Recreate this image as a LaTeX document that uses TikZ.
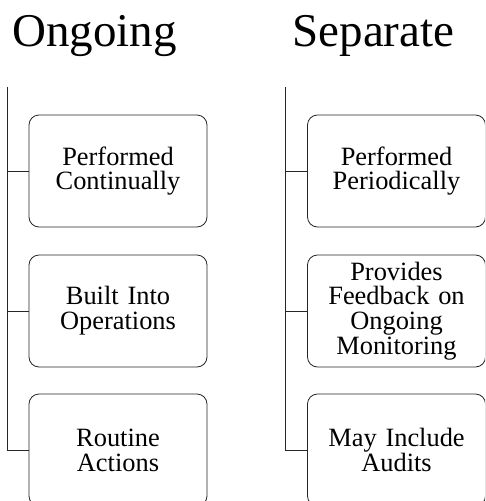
\documentclass[tikz,border=0pt]{standalone}
\usepackage{fontspec}
\setmainfont{Liberation Serif}
\begin{document}
\begin{tikzpicture}[x=1pt,y=-1pt,
  itembox/.style={draw=black!85, line width=0.8pt, rounded corners=10pt,
    minimum width=178pt, minimum height=112pt, inner sep=0pt,
    text width=172pt, align=center, font=\fontsize{26.4}{24.8}\selectfont},
  heading/.style={font=\fontsize{47}{50}\selectfont, anchor=base},
  link/.style={draw=black!85, line width=0.8pt}]
\useasboundingbox (0,0) rectangle (485,501);
\clip (0,0) rectangle (485,501);

% headings
\node[heading] (hOn) at (94.5,46.5) {Ongoing};
\node[heading] (hSep) at (373.5,46.5) {Separate};

% Ongoing column
\coordinate (topL) at (7.5,87);
\node[itembox] (l1) at (118,171) {Performed\\Continually};
\node[itembox] (l2) at (118,311) {Built Into\\Operations};
\node[itembox] (l3) at (118,450) {Routine\\Actions};
\draw[link] (topL) |- (l3.west);
\draw[link] (topL |- l1.west) -- (l1.west);
\draw[link] (topL |- l2.west) -- (l2.west);

% Separate column
\coordinate (topR) at (285.5,87);
\node[itembox] (r1) at (396.5,171) {Performed\\Periodically};
\node[itembox] (r2) at (396.5,311) {Provides\\Feedback on\\Ongoing\\Monitoring};
\node[itembox] (r3) at (396.5,450) {May Include\\Audits};
\draw[link] (topR) |- (r3.west);
\draw[link] (topR |- r1.west) -- (r1.west);
\draw[link] (topR |- r2.west) -- (r2.west);
\end{tikzpicture}
\end{document}
